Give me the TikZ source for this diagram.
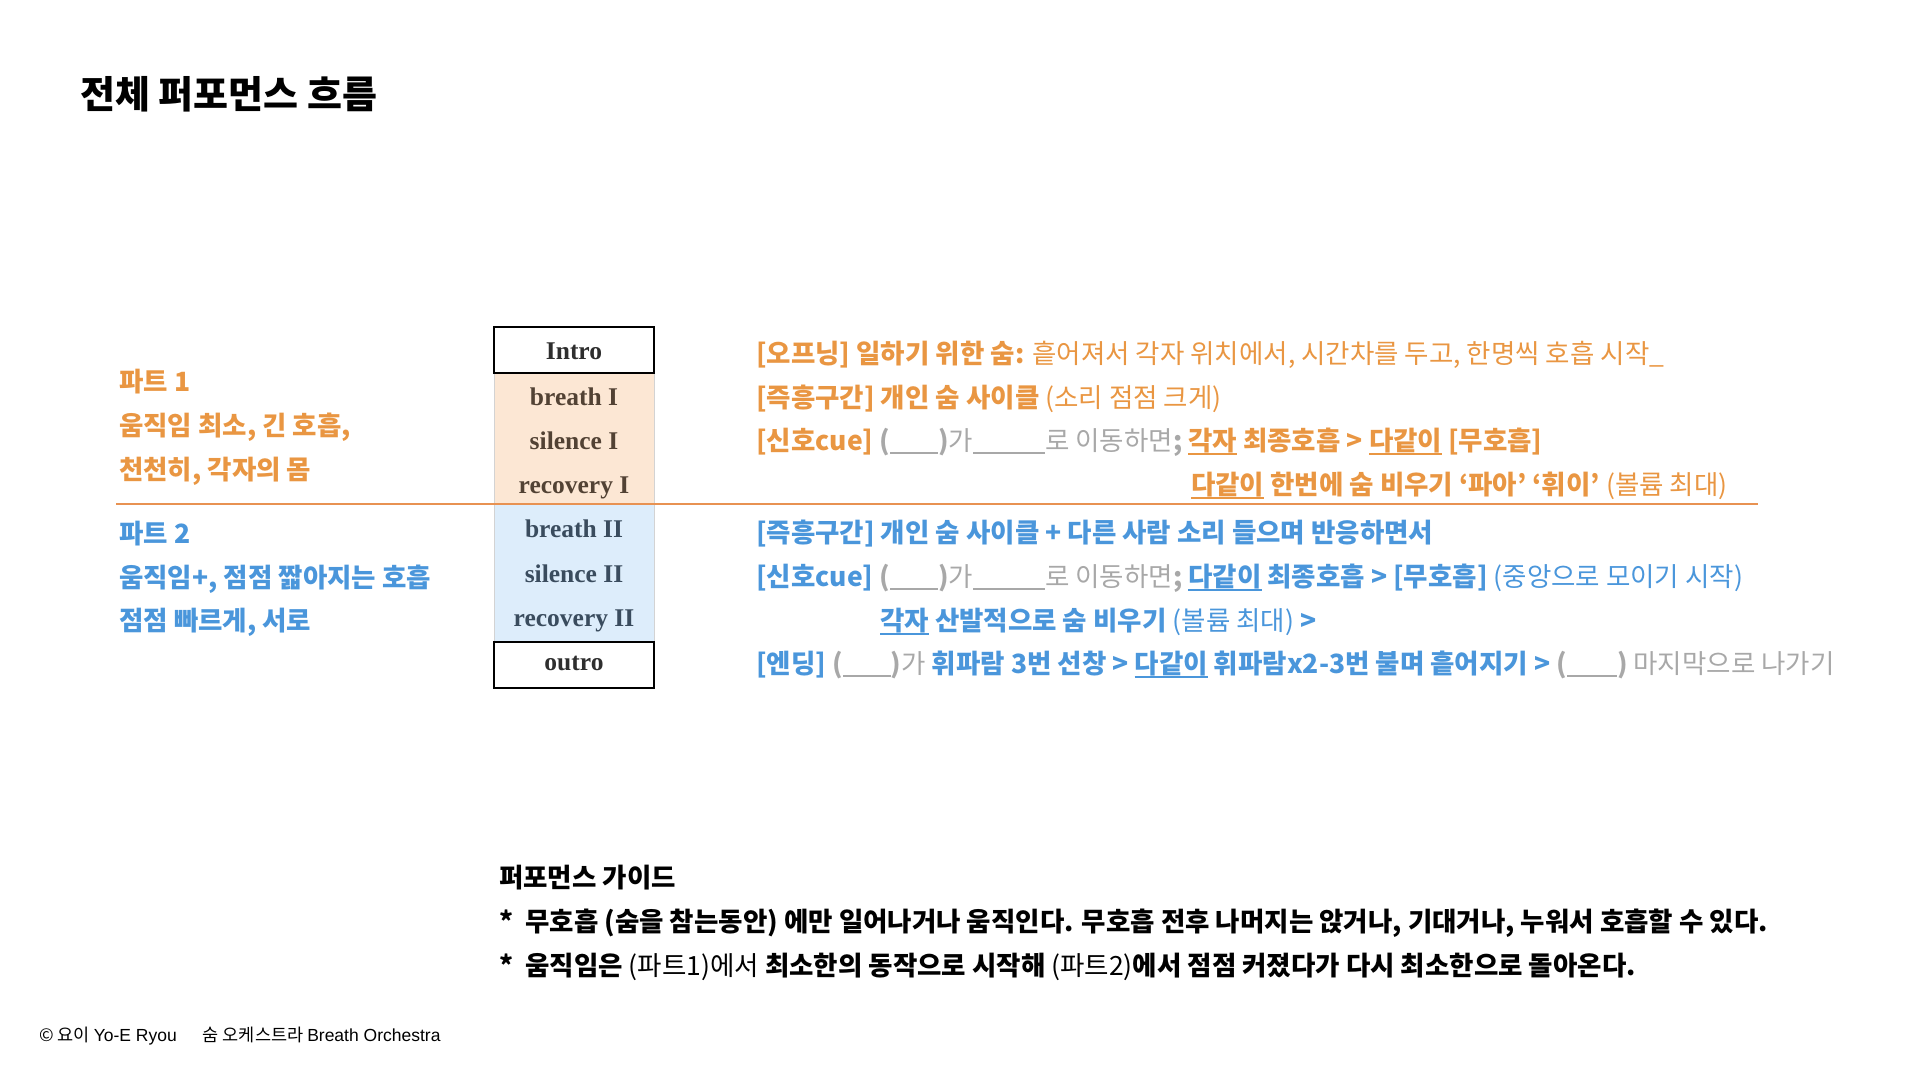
\documentclass[tikz,border=0pt]{standalone}
\usepackage{fontspec}
\setmainfont{Noto Sans CJK KR}
\newfontfamily\stagefont{Liberation Serif}
\newfontfamily\latinsans{Liberation Sans}
\definecolor{orng}{RGB}{233,150,66}
\definecolor{sky}{RGB}{74,150,219}
\definecolor{gry}{RGB}{168,168,168}
\definecolor{orngfill}{RGB}{252,231,212}
\definecolor{skyfill}{RGB}{221,237,251}
\definecolor{orngline}{RGB}{232,146,82}
\newcommand\bodyfont{\fontsize{26.5}{32}\selectfont}
\newsavebox\wordbox
\newcommand\uword[1]{\sbox\wordbox{#1}\rlap{\rule[-5pt]{\wd\wordbox}{1.7pt}}\usebox\wordbox}
\newcommand\blank[1]{\rule[-4pt]{#1}{1.8pt}}
\newcommand\cue[1]{{\color{gry}\textbf{(}\blank{#1}\textbf{)}}}
\begin{document}
\begin{tikzpicture}[x=1pt,y=-1pt,
	part1/.style={anchor=base west,text=orng,font=\bodyfont\bfseries,inner sep=0},
	part2/.style={anchor=base west,text=sky,font=\bodyfont\bfseries,inner sep=0},
	guide/.style={anchor=base west,font=\bodyfont,inner sep=0},
	stage/.style={anchor=base,font=\stagefont\bfseries\fontsize{25.5}{30}\selectfont,inner sep=0}]
	\useasboundingbox (0,0) rectangle (1920,1080);
	\node [anchor=base west,font=\fontsize{38}{44}\selectfont\bfseries,inner sep=0] (title) at (80,108) {전체 퍼포먼스 흐름};
	% the column of stages
	\draw [fill=orngfill,draw=gry!50] (494,373) rectangle (654,504);
	\draw [fill=skyfill,draw=gry!50] (494,504) rectangle (654,642);
	\draw [line width=2.4] (494,327) rectangle (654,373);
	\draw [line width=2.4] (494,642) rectangle (654,688);
	\node [stage,text=black!82] (intro) at (574,359) {Intro};
	\node [stage,text={rgb,255:red,82;green,66;blue,52}] (breath1) at (574,405) {breath I};
	\node [stage,text={rgb,255:red,82;green,66;blue,52}] (silence1) at (574,449) {silence I};
	\node [stage,text={rgb,255:red,82;green,66;blue,52}] (recovery1) at (574,493) {recovery I};
	\node [stage,text={rgb,255:red,58;green,76;blue,94}] (breath2) at (574,537) {breath II};
	\node [stage,text={rgb,255:red,58;green,76;blue,94}] (silence2) at (574,582) {silence II};
	\node [stage,text={rgb,255:red,58;green,76;blue,94}] (recovery2) at (574,626) {recovery II};
	\node [stage,text=black!82] (outro) at (574,670) {outro};
	\draw [orngline,line width=2] (116,504)--(1758,504);
	% left side
	\node [part1] (p1a) at (119,391) {파트 1};
	\node [part1] (p1b) at (119,435) {움직임 최소, 긴 호흡,};
	\node [part1] (p1c) at (119,479) {천천히, 각자의 몸};
	\node [part2] (p2a) at (119,543) {파트 2};
	\node [part2] (p2b) at (119,587) {움직임+, 점점 짧아지는 호흡};
	\node [part2] (p2c) at (119,630) {점점 빠르게, 서로};
	% right side, part 1
	\node [part1] (r1) at (756,363) {[오프닝] 일하기 위한 숨: \mdseries 흩어져서 각자 위치에서, 시간차를 두고, 한명씩 호흡 시작\_};
	\node [part1] (r2) at (756,407) {[즉흥구간] 개인 숨 사이클 \mdseries (소리 점점 크게)};
	\node [part1] (r3) at (756,450) {[신호cue] \cue{48pt}{\mdseries\color{gry}가\blank{72pt}로 이동하면}{\color{gry};} \uword{각자} 최종호흡 > \uword{다같이} [무호흡]};
	\node [part1] (r4) at (1191,494) {\uword{다같이} 한번에 숨 비우기 ‘파아’ ‘휘이’ \mdseries (볼륨 최대)};
	% right side, part 2
	\node [part2] (r5) at (756,542) {[즉흥구간] 개인 숨 사이클 + 다른 사람 소리 들으며 반응하면서};
	\node [part2] (r6) at (756,586) {[신호cue] \cue{48pt}{\mdseries\color{gry}가\blank{72pt}로 이동하면}{\color{gry};} \uword{다같이} 최종호흡 > [무호흡] \mdseries (중앙으로 모이기 시작)};
	\node [part2] (r7) at (880,630) {\uword{각자} 산발적으로 숨 비우기 {\mdseries (볼륨 최대)} >};
	\node [part2] (r8) at (756,673) {[엔딩] \cue{48pt}{\mdseries\color{gry}가} 휘파람 3번 선창 > \uword{다같이} 휘파람x2-3번 불며 흩어지기 > \cue{50pt}{\mdseries\color{gry}\ 마지막으로 나가기}};
	% guide
	\node [guide,font=\bodyfont\bfseries] (gtitle) at (499,887) {퍼포먼스 가이드};
	\node [guide,font=\bodyfont\bfseries] (g1) at (499,931) {*\ \ 무호흡 (숨을 참는동안) 에만 일어나거나 움직인다. 무호흡 전후 나머지는 앉거나, 기대거나, 누워서 호흡할 수 있다.};
	\node [guide,font=\bodyfont\bfseries] (g2) at (499,975) {*\ \ 움직임은 {\mdseries (파트1)에서} 최소한의 동작으로 시작해 {\mdseries (파트2)}에서 점점 커졌다가 다시 최소한으로 돌아온다.};
	% footer
	\node [anchor=base west,font=\fontsize{17.5}{20}\selectfont,inner sep=0] (credit) at (39,1041) {© 요이 {\latinsans Yo-E Ryou}\hspace{26pt}숨 오케스트라 {\latinsans Breath Orchestra}};
\end{tikzpicture}
\end{document}
